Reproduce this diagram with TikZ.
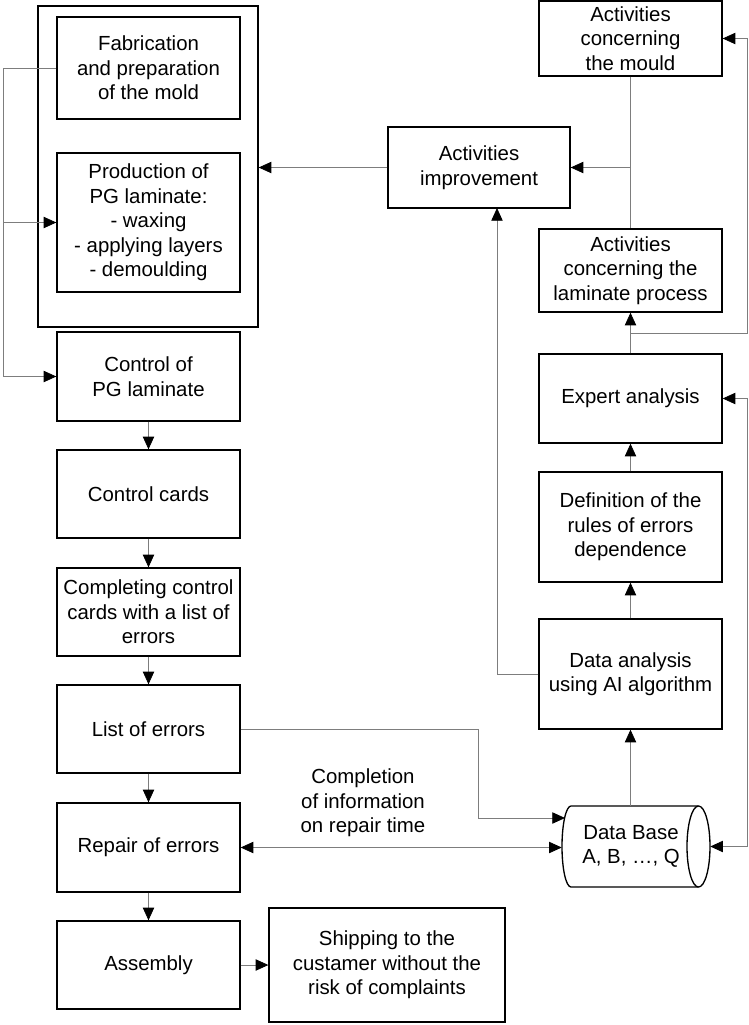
\documentclass[tikz,border=0pt]{standalone}
\usepackage{fontspec}
\setmainfont{Liberation Sans}
\usetikzlibrary{arrows.meta}
\definecolor{linkgray}{RGB}{125,125,125}

\tikzset{
	box/.style={draw, line width=1pt, align=center, inner sep=1pt,
		font=\fontsize{15.3}{18.4}\selectfont},
	colbox/.style={box, minimum width=137.25pt},
	conn/.style={draw=linkgray, line width=0.6pt},
	arr/.style={conn, -{Triangle[length=9.5pt,width=8.5pt,color=black,fill=black]}},
	dblarr/.style={conn, {Triangle[length=9.5pt,width=8.5pt,color=black,fill=black]}-{Triangle[length=9.5pt,width=8.5pt,color=black,fill=black]}}
}

\begin{document}
\begin{tikzpicture}[x=0.75pt,y=-0.75pt]
	\useasboundingbox (0,0) rectangle (749,1025);
	% left column
	\node[box, minimum width=165pt, minimum height=240.75pt] (mould) at (148,166.5) {};
	\node[colbox, minimum height=76.5pt] (fab) at (148.5,68) {Fabrication\\and preparation\\of the mold};
	\node[colbox, minimum height=104.25pt] (prod) at (148.5,222.5) {Production of\\PG laminate:\\- waxing\\- applying layers\\- demoulding};
	\node[colbox, minimum height=66.75pt] (ctrl) at (148.5,376.5) {Control of\\PG laminate};
	\node[colbox, minimum height=66pt] (cards) at (148.5,494) {Control cards};
	\node[colbox, minimum height=66pt] (fill) at (148.5,612) {Completing control\\cards with a list of\\errors};
	\node[colbox, minimum height=66pt] (errs) at (148.5,729) {List of errors};
	\node[colbox, minimum height=66.75pt] (repair) at (148.5,847.5) {Repair of errors};
	\node[colbox, minimum height=66pt] (asm) at (148.5,965) {Assembly};
	\node[box, minimum width=177pt, minimum height=85.5pt] (ship) at (387,965) {Shipping to the\\custamer without the\\risk of complaints};
	% right column
	\node[colbox, minimum height=56.25pt] (actm) at (630.5,38.5) {Activities\\concerning\\the mould};
	\node[box, minimum width=136.5pt, minimum height=60.75pt] (impr) at (479,167.5) {Activities\\improvement};
	\node[colbox, minimum height=62.25pt] (actl) at (630.5,270.5) {Activities\\concerning the\\laminate process};
	\node[colbox, minimum height=66.75pt] (expert) at (630.5,398.5) {Expert analysis};
	\node[colbox, minimum height=82.5pt] (rules) at (630.5,527) {Definition of the\\rules of errors\\dependence};
	\node[colbox, minimum height=82.5pt] (ai) at (630.5,674) {Data analysis\\using AI algorithm};
	% data base drum
	\node[minimum width=111pt, minimum height=60.75pt, inner sep=0pt] (db) at (636,846.5) {};
	\draw[line width=1pt] (571,806) arc[start angle=270, end angle=90, x radius=9, y radius=40.5]
		-- (698.5,887) arc[start angle=90, end angle=-90, x radius=11.5, y radius=40.5] -- cycle;
	\draw[line width=1pt] (698.5,806) arc[start angle=270, end angle=90, x radius=11.5, y radius=40.5];
	\node[box, draw=none] (dbtext) at (631,846.5) {Data Base\\A, B, …, Q};
	\node[align=center, font=\fontsize{15.3}{18.4}\selectfont] (note) at (363,803) {Completion\\of information\\on repair time};

	% helper points
	\coordinate (lft) at (3,0);
	\coordinate (rgt) at (747,0);
	\coordinate (split) at (630.5,333);
	\coordinate (dbin) at (565,818);
	\coordinate (aup) at (497,208);

	% connectors
	\draw[arr] (fab.west) -- (fab.west -| lft) |- (ctrl.west);
	\draw[arr] (prod.west -| lft) -- (prod.west);
	\foreach \a/\b in {ctrl/cards, cards/fill, fill/errs, errs/repair, repair/asm}
		\draw[arr] (\a) -- (\b);
	\draw[arr] (asm) -- (ship);
	\draw[arr] (errs.east) -| (478,818) -- (dbin);
	\draw[dblarr] (repair.east) -- (repair.east -| db.west);
	\draw[arr] (ai.south |- db.north) -- (ai.south);
	\draw[arr] (ai) -- (rules);
	\draw[arr] (rules) -- (expert);
	\draw[arr] (expert) -- (actl);
	\draw[conn] (actm.south) -- (actl.north);
	\draw[arr] (actm.south |- impr.east) -- (impr.east);
	\draw[arr] (split) -- (split -| rgt) |- (actm.east);
	\draw[dblarr] (db.east) -| (rgt |- expert.east) -- (expert.east);
	\draw[arr] (ai.west) -| (aup);
	\draw[arr] (impr.west) -- (impr.west -| mould.east);
\end{tikzpicture}
\end{document}
